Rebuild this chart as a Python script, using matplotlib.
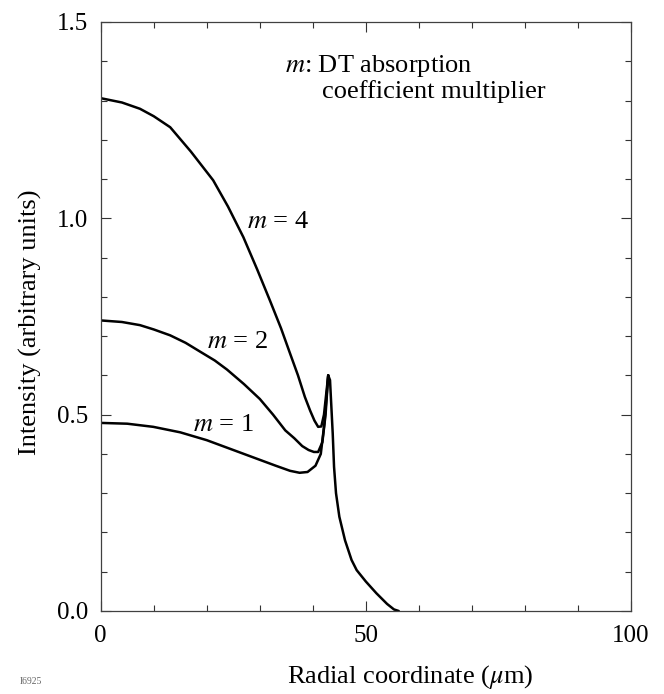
import matplotlib
matplotlib.use("Agg")
import matplotlib.pyplot as plt
from matplotlib.ticker import MultipleLocator, FormatStrFormatter

plt.rcParams['font.family'] = ['Liberation Serif', 'DejaVu Serif']
plt.rcParams['mathtext.fontset'] = 'stix'

# m = 4 curve (up to the common spike)
m4_x = [0, 4, 7.4, 10, 13.1, 17, 21.2, 24, 26.9, 29.5, 31.9, 34, 35.7, 37.2,
        38.5, 39.5, 40.3, 41.0, 41.6, 42.1, 42.5, 42.9]
m4_y = [1.306, 1.295, 1.279, 1.26, 1.232, 1.17, 1.097, 1.03, 0.952, 0.87,
        0.791, 0.72, 0.656, 0.60, 0.545, 0.51, 0.485, 0.469, 0.47, 0.50,
        0.55, 0.60]

# m = 2 curve
m2_x = [0, 4, 7.4, 10, 13.1, 16, 18.8, 21.5, 23.8, 27, 30, 32.5, 34.8, 36.5,
        38, 39.2, 40.2, 41.0, 41.8, 42.4, 42.9]
m2_y = [0.740, 0.736, 0.728, 0.717, 0.702, 0.683, 0.66, 0.638, 0.615, 0.578,
        0.54, 0.50, 0.46, 0.44, 0.42, 0.41, 0.405, 0.405, 0.43, 0.50, 0.60]

# m = 1 curve
m1_x = [0, 5, 9.9, 15, 20, 25, 30, 33, 35.7, 37.5, 39, 40.5, 41.5, 42.2, 42.9]
m1_y = [0.479, 0.477, 0.469, 0.455, 0.435, 0.41, 0.385, 0.37, 0.357, 0.352,
        0.354, 0.37, 0.40, 0.48, 0.60]

# common tail after the spike
tail_x = [42.9, 43.24, 43.43, 43.75, 44.0, 44.37, 45.0, 46.07, 47.3, 48.27,
          50, 52, 54, 55.3, 56.2]
tail_y = [0.60, 0.588, 0.537, 0.452, 0.367, 0.30, 0.24, 0.18, 0.13, 0.104,
          0.075, 0.045, 0.018, 0.004, 0.0]

fig = plt.figure(figsize=(6.64, 6.94), dpi=100)
ax = fig.add_axes([0.1517, 0.1196, 0.7986, 0.8487])

for xs, ys in [(m4_x, m4_y), (m2_x, m2_y), (m1_x, m1_y), (tail_x, tail_y)]:
    ax.plot(xs, ys, color='black', lw=1.8, solid_capstyle='round')

ax.set_xlim(0, 100)
ax.set_ylim(0, 1.5)
ax.xaxis.set_major_locator(MultipleLocator(50))
ax.xaxis.set_minor_locator(MultipleLocator(10))
ax.yaxis.set_major_locator(MultipleLocator(0.5))
ax.yaxis.set_minor_locator(MultipleLocator(0.1))
ax.yaxis.set_major_formatter(FormatStrFormatter('%.1f'))
ax.tick_params(which='both', direction='in', top=True, right=True,
               labelsize=18, color='0.2')
ax.tick_params(axis='x', pad=10)
ax.tick_params(axis='y', pad=9)
ax.tick_params(which='major', length=7, width=0.8)
ax.tick_params(which='minor', length=4, width=0.8)
for s in ax.spines.values():
    s.set_linewidth(0.9)
    s.set_color('0.25')

ax.set_xlabel(r'Radial coordinate ($\mu$m)', fontsize=19)
ax.xaxis.set_label_coords(0.583, -0.112)
ax.xaxis.label.set_va('center')
ax.set_ylabel('Intensity (arbitrary units)', fontsize=19)
ax.yaxis.set_label_coords(-0.133, 0.49)
ax.yaxis.label.set_va('center')

ax.text(33.5, 0.99, r'$m$ = 4', fontsize=19, ha='center', va='center')
ax.text(25.7, 0.685, r'$m$ = 2', fontsize=19, ha='center', va='center')
ax.text(23.1, 0.473, r'$m$ = 1', fontsize=19, ha='center', va='center')
ax.text(34.8, 1.373, r'$m$: DT absorption', fontsize=19, ha='left', va='baseline')
ax.text(41.8, 1.307, 'coefficient multiplier', fontsize=19, ha='left', va='baseline')

fig.text(0.03, 0.015, 'I6925', fontsize=7, color='0.4')

fig.savefig('out.png', dpi=100)
